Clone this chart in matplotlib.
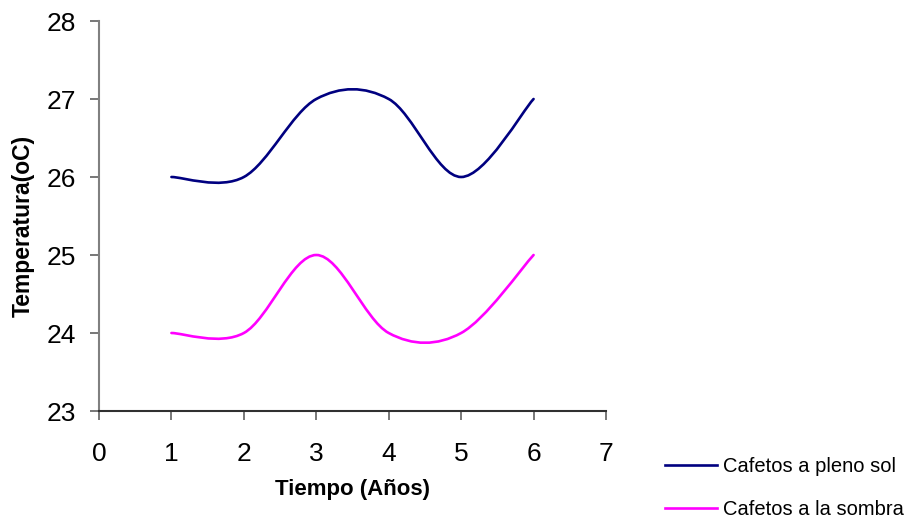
import matplotlib
matplotlib.use("Agg")
import matplotlib.pyplot as plt
from matplotlib.path import Path
from matplotlib.patches import PathPatch
from matplotlib.lines import Line2D
import numpy as np

years = [1, 2, 3, 4, 5, 6]
sol = [26, 26, 27, 27, 26, 27]
sombra = [24, 24, 25, 24, 24, 25]
series_names = ["Cafetos a pleno sol", "Cafetos a la sombra"]
series_colors = ["#000080", "#FF00FF"]
xticks = [0, 1, 2, 3, 4, 5, 6, 7]
yticks = [23, 24, 25, 26, 27, 28]

plt.rcParams['font.family'] = ['Liberation Sans', 'DejaVu Sans']

fig = plt.figure(figsize=(9.06, 5.2), dpi=100)
ax = fig.add_axes([99/906, 1-411/520, (606-99)/906, (411-21)/520])


def smooth_path(xs, ys):
    pts = np.column_stack([xs, ys]).astype(float)
    n = len(pts)
    verts = [pts[0]]
    codes = [Path.MOVETO]
    for i in range(n - 1):
        p0 = pts[max(i - 1, 0)]
        p1 = pts[i]
        p2 = pts[i + 1]
        p3 = pts[min(i + 2, n - 1)]
        c1 = p1 + (p2 - p0) / 6.0
        c2 = p2 - (p3 - p1) / 6.0
        verts += [c1, c2, p2]
        codes += [Path.CURVE4] * 3
    return Path(verts, codes)


handles = []
for ys, name, col in zip([sol, sombra], series_names, series_colors):
    patch = PathPatch(smooth_path(years, ys), fill=False, edgecolor=col, lw=1.9,
                      capstyle='round', joinstyle='round')
    ax.add_patch(patch)
    handles.append(Line2D([], [], color=col, lw=1.9, label=name))

ax.set_xlim(0, 7)
ax.set_ylim(23, 28)
ax.set_xticks(xticks)
ax.set_yticks(yticks)
ax.tick_params(axis='both', labelsize=19, direction='out', length=6.5, width=1.2,
               color='#606060')
ax.tick_params(axis='x', pad=15.5)
ax.tick_params(axis='y', pad=10)
for s in ['top', 'right']:
    ax.spines[s].set_visible(False)
ax.spines['left'].set_color('#808080')
ax.spines['left'].set_linewidth(1.5)
ax.spines['bottom'].set_color('#303030')
ax.spines['bottom'].set_linewidth(1.5)

ax.set_xlabel("Tiempo (Años)", fontsize=16, fontweight='bold', labelpad=10)
ax.set_ylabel("Temperatura(oC)", fontsize=16.5, fontweight='bold')
ax.yaxis.set_label_coords(-0.126, 0.474)

fig.legend(handles=handles, loc='upper left', bbox_to_anchor=(665/906, 1-457/520),
           frameon=False, borderpad=0, borderaxespad=0, handlelength=2.6,
           handletextpad=0.3, labelspacing=1.2,
           prop={'size': 14.5})

fig.savefig("out.png", dpi=100)
